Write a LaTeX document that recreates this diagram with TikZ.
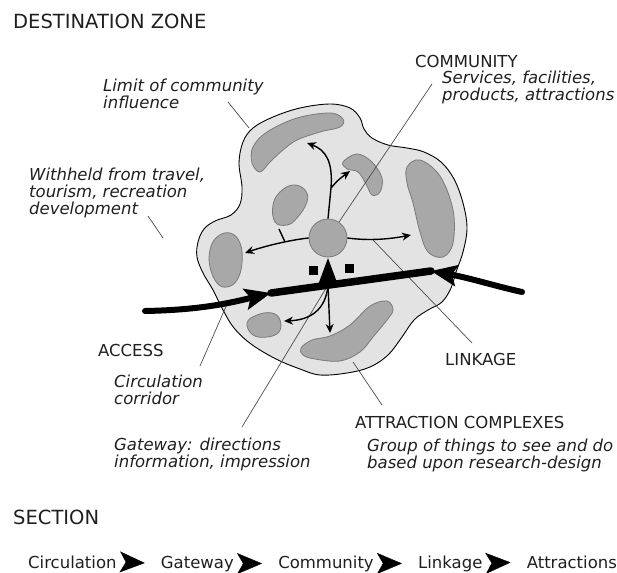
\documentclass[tikz,border=0pt]{standalone}
\usepackage{fontspec}
\setmainfont{DejaVu Sans}
\usetikzlibrary{arrows.meta,positioning}
\definecolor{zonegray}{gray}{0.89}
\definecolor{patchgray}{gray}{0.66}
\definecolor{patchline}{gray}{0.48}
\definecolor{leadgray}{gray}{0.3}
\definecolor{inkgray}{gray}{0.12}
\tikzset{
  zone/.style={draw=black, line width=0.9pt, fill=zonegray},
  patch/.style={draw=patchline, line width=0.8pt, fill=patchgray},
  hubdot/.style={circle, draw=patchline, line width=0.8pt, fill=patchgray, minimum size=38pt, inner sep=0pt},
  sign/.style={fill=black, minimum size=9pt, inner sep=0pt},
  road/.style={line width=7.5pt, line cap=round},
  access/.style={line width=6pt, line cap=round, -{Stealth[length=26pt,width=21pt,inset=5pt]}},
  gatearrow/.style={line width=5pt, -{Triangle[length=27pt,width=18pt]}},
  link/.style={line width=1.4pt, -{Stealth[length=9pt,width=8pt]}},
  leader/.style={draw=leadgray, line width=0.7pt},
  heading/.style={font=\fontsize{19.5}{22}\selectfont, text=inkgray, anchor=base west, inner sep=0pt},
  caps/.style={font=\fontsize{16.5}{17}\selectfont, text=inkgray, anchor=base west, inner sep=0pt},
  note/.style={font=\fontsize{16.5}{17}\selectfont\itshape, text=inkgray, align=left, anchor=base west, inner sep=0pt},
  row/.style={font=\fontsize{16.5}{17}\selectfont, text=inkgray, inner sep=0pt},
  secarrow/.style={line width=0.4pt, shorten <=9pt, shorten >=16pt, -{Stealth[length=25pt,width=21pt,inset=6pt]}}
}
\begin{document}
\begin{tikzpicture}[x=1pt,y=-1pt]
\useasboundingbox (0,0) rectangle (617,572);

% limit of community influence
\draw[zone] plot[smooth cycle, tension=0.6] coordinates {
  (300,108) (330,104) (350,108) (360,118) (364,129) (372,138) (388,145)
  (407,148) (424,152) (441,162) (454,179) (463,203) (467,228) (463,252)
  (456,272) (451,288) (442,302) (428,310) (414,320) (402,337) (388,355)
  (370,367) (347,373) (320,375) (300,369) (276,359) (251,344) (234,328)
  (223,310) (213,290) (203,273) (197,257) (198,242) (204,229) (215,221)
  (231,215) (240,204) (242,187) (239,163) (243,142) (253,128) (273,117)};

% attraction complexes
\draw[patch] plot[smooth cycle, tension=0.6] coordinates {
  (253,147) (267,132) (297,118) (330,113) (343,119) (340,127) (320,132)
  (297,140) (283,150) (270,162) (260,172) (252,163)};
\draw[patch] plot[smooth cycle, tension=0.6] coordinates {
  (343,162) (357,154) (372,162) (382,178) (380,192) (372,195) (366,184)
  (358,172) (347,169)};
\draw[patch] plot[smooth cycle, tension=0.6] coordinates {
  (407,167) (420,160) (440,176) (453,210) (453,243) (443,257) (428,252)
  (420,232) (413,203) (407,183)};
\draw[patch] plot[smooth cycle, tension=0.7] coordinates {
  (273,205) (280,192) (293,185) (305,190) (307,202) (297,218) (287,225) (275,222)};
\draw[patch] plot[smooth cycle, tension=0.7] coordinates {
  (210,250) (217,237) (230,233) (240,243) (242,263) (237,280) (227,287)
  (217,283) (210,267)};
\draw[patch] plot[smooth cycle, tension=0.7] coordinates {
  (247,323) (257,315) (272,313) (280,320) (279,332) (267,337) (253,335)};
\draw[patch] plot[smooth cycle, tension=0.6] coordinates {
  (301,348) (312,340) (330,336) (350,325) (370,306) (387,301) (393,310)
  (387,320) (373,337) (360,352) (340,361) (315,359) (303,355)};

% community
\node[hubdot] (hub) at (328,238) {};
\node[sign] (signL) at (313,270) {};
\node[sign] (signR) at (349,268) {};

% named points
\coordinate (roadW) at (271,293);
\coordinate (roadE) at (431,271);
\coordinate (accW) at (145,311);
\coordinate (accE) at (522,292);
\coordinate (gate) at (328,285);
\coordinate (fork) at (331,188);
\coordinate (upA) at (307,143);
\coordinate (upB) at (350,171);
\coordinate (leftA) at (245,253);
\coordinate (stubA) at (279,229);
\coordinate (stubB) at (285,242);
\coordinate (rightA) at (411,235);
\coordinate (downA) at (330,333);
\coordinate (lowA) at (284,321);

% leaders
\coordinate (limitA) at (228,102);  \coordinate (limitB) at (249,128);
\coordinate (heldA) at (148,216);   \coordinate (heldB) at (163,238);
\coordinate (commA) at (432,84);    \coordinate (commB) at (339,222);
\coordinate (linkA) at (373,240);   \coordinate (linkB) at (472,343);
\coordinate (attrA) at (353,362);   \coordinate (attrB) at (382,405);
\coordinate (corrA) at (228,302);   \coordinate (corrB) at (200,366);
\coordinate (gateB) at (242,427);
\draw[leader] (limitA) -- (limitB);
\draw[leader] (heldA) -- (heldB);
\draw[leader] (commA) -- (commB);
\draw[leader] (linkA) -- (linkB);
\draw[leader] (attrA) -- (attrB);
\draw[leader] (corrA) -- (corrB);
\draw[leader] (gate) -- (gateB);

% linkage
\draw[link] (hub.north) -- (fork) .. controls (333,162) and (326,150) .. (upA);
\draw[link] (fork) .. controls (338,180) .. (upB);
\draw[link] (hub.west) .. controls (290,240) and (265,246) .. (leftA);
\draw[line width=1.4pt] (stubA) -- (stubB);
\draw[link] (hub.east) .. controls (370,241) and (390,239) .. (rightA);
\draw[link] (gate) -- (downA);
\draw[link] (gate) .. controls (326,310) and (310,320) .. (lowA);

% access
\draw[road] (roadW) -- (roadE);
\draw[access] (accW) .. controls (200,310) and (230,303) .. (roadW);
\draw[access] (accE) .. controls (495,286) and (470,278) .. (roadE);
\draw[gatearrow] (gate) -- (hub.south);

% labels
\node[heading] (zone) at (13,29) {DESTINATION ZONE};
\node[note] (limit) at (103,109) {Limit of community\\influence};
\node[note] (held) at (29,214) {Withheld from travel,\\tourism, recreation\\development};
\node[caps] (comm) at (415,68) {COMMUNITY};
\node[note] (serv) at (442,101) {Services, facilities,\\products, attractions};
\node[caps] (acc) at (98,356) {ACCESS};
\node[note] (corr) at (114,404) {Circulation\\corridor};
\node[note] (gway) at (114,467) {Gateway: directions\\information, impression};
\node[caps] (link) at (445,365) {LINKAGE};
\node[caps] (attr) at (355,428) {ATTRACTION COMPLEXES};
\node[note] (group) at (367,468) {Group of things to see and do\\based upon research-design};

% section
\node[heading] (sect) at (13,524) {SECTION};
\node[row, anchor=base west] (circ) at (28,568) {Circulation};
\node[row, base right=44pt of circ] (gwy) {Gateway};
\node[row, base right=44pt of gwy] (cty) {Community};
\node[row, base right=44pt of cty] (lkg) {Linkage};
\node[row, base right=44pt of lkg] (atr) {Attractions};
\draw[secarrow] (circ.east) -- (gwy.west);
\draw[secarrow] (gwy.east) -- (cty.west);
\draw[secarrow] (cty.east) -- (lkg.west);
\draw[secarrow] (lkg.east) -- (atr.west);

\end{tikzpicture}
\end{document}
